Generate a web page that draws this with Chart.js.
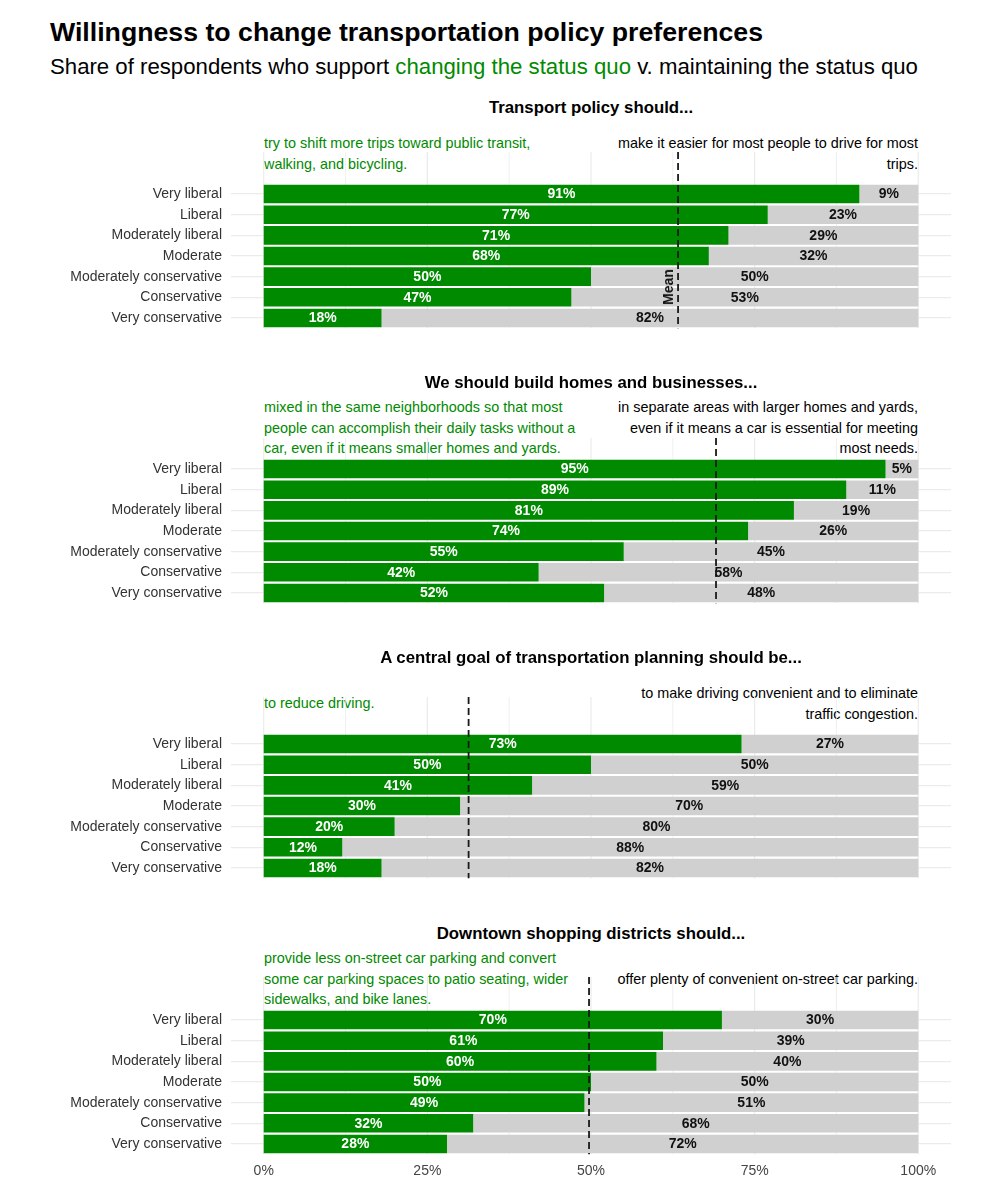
<!DOCTYPE html>
<html>
<head>
<meta charset="utf-8">
<script src="https://cdn.jsdelivr.net/npm/chart.js@4"></script>
<style>
  body { margin: 0; background: #fff; font-family: "Liberation Sans", Arial, sans-serif; }
  #page { position: relative; width: 1000px; height: 1200px; overflow: hidden; }
  canvas { position: absolute; left: 0; }
  .txt { position: absolute; white-space: nowrap; }
  .headline { left: 50px; top: 18.5px; font-size: 26.7px; line-height: 26.7px; font-weight: bold; color: #000; }
  .subtitle { left: 50px; top: 56px; font-size: 22.2px; line-height: 22.2px; color: #000; }
  .green { color: #008a00; }
  .ptitle { left: 591px; transform: translateX(-50%); font-size: 16.8px; line-height: 16.8px; font-weight: bold; color: #000; }
  .note { font-size: 14.4px; line-height: 20.5px; transform: translateY(-50%); }
  .note.left { left: 264px; color: #008a00; }
  .note.right { right: 82px; text-align: right; color: #000; }
  .meanlab { left: 668px; top: 287px; font-size: 14px; line-height: 14px; font-weight: bold; color: #111; transform: translate(-50%, -50%) rotate(-90deg); }
</style>
</head>
<body>
<div id="page">
  <div class="txt headline">Willingness to change transportation policy preferences</div>
  <div class="txt subtitle">Share of respondents who support <span class="green">changing the status quo</span> v. maintaining the status quo</div>
</div>
<script>
const categories = ['Very liberal', 'Liberal', 'Moderately liberal', 'Moderate', 'Moderately conservative', 'Conservative', 'Very conservative'];

const questions = [
  'Transport policy should...',
  'We should build homes and businesses...',
  'A central goal of transportation planning should be...',
  'Downtown shopping districts should...'
];

const changeNotes = [
  ['try to shift more trips toward public transit,', 'walking, and bicycling.'],
  ['mixed in the same neighborhoods so that most', 'people can accomplish their daily tasks without a', 'car, even if it means smaller homes and yards.'],
  ['to reduce driving.'],
  ['provide less on-street car parking and convert', 'some car parking spaces to patio seating, wider', 'sidewalks, and bike lanes.']
];
const keepNotes = [
  ['make it easier for most people to drive for most', 'trips.'],
  ['in separate areas with larger homes and yards,', 'even if it means a car is essential for meeting', 'most needs.'],
  ['to make driving convenient and to eliminate', 'traffic congestion.'],
  ['offer plenty of convenient on-street car parking.']
];

// share supporting change / maintaining the status quo, %
const change1 = [91, 77, 71, 68, 50, 47, 18];
const keep1   = [9, 23, 29, 32, 50, 53, 82];
const change2 = [95, 89, 81, 74, 55, 42, 52];
const keep2   = [5, 11, 19, 26, 45, 58, 48];
const change3 = [73, 50, 41, 30, 20, 12, 18];
const keep3   = [27, 50, 59, 70, 80, 88, 82];
const change4 = [70, 61, 60, 50, 49, 32, 28];
const keep4   = [30, 39, 40, 50, 51, 68, 72];

const means = [63.3, 69.1, 31.3, 49.7];

const xTickValues = [0, 25, 50, 75, 100];
const xTickLabels = ['0%', '25%', '50%', '75%', '100%'];
const gridValues = [0, 12.5, 25, 37.5, 50, 62.5, 75, 87.5, 100];

const GREEN = '#008a00';
const GRAY = '#d0d0d0';

Chart.defaults.font.family = '"Liberation Sans", Arial, sans-serif';

const panelExtras = {
  id: 'panelExtras',
  beforeDatasetsDraw(chart, args, opts) {
    const { ctx, chartArea, scales: { x } } = chart;
    ctx.save();
    ctx.strokeStyle = '#ebebeb';
    gridValues.forEach(v => {
      const px = x.getPixelForValue(v);
      ctx.lineWidth = v % 25 === 0 ? 1.2 : 0.7;
      ctx.beginPath();
      ctx.moveTo(px, opts.gridTop);
      ctx.lineTo(px, chartArea.bottom);
      ctx.stroke();
    });
    ctx.restore();
  },
  afterDatasetsDraw(chart, args, opts) {
    const { ctx, chartArea, scales: { x } } = chart;
    ctx.save();
    // mean line
    const mx = x.getPixelForValue(opts.mean);
    ctx.strokeStyle = '#1a1a1a';
    ctx.lineWidth = 1.8;
    ctx.setLineDash([7, 4]);
    ctx.beginPath();
    ctx.moveTo(mx, opts.gridTop);
    ctx.lineTo(mx, chartArea.bottom);
    ctx.stroke();
    ctx.setLineDash([]);
    // value labels in the middle of each segment
    ctx.font = 'bold 14px "Liberation Sans", Arial, sans-serif';
    ctx.textAlign = 'center';
    ctx.textBaseline = 'middle';
    chart.data.datasets.forEach((ds, i) => {
      ctx.fillStyle = i === 0 ? '#fff' : '#111';
      chart.getDatasetMeta(i).data.forEach((el, j) => {
        ctx.fillText(ds.data[j] + '%', (el.x + el.base) / 2, el.y + 0.5);
      });
    });
    ctx.restore();
  }
};

const page = document.getElementById('page');
const offsets = [0, 275, 550, 826];
const gridTops = [7, 18, 2, 6];
const series = [[change1, keep1], [change2, keep2], [change3, keep3], [change4, keep4]];

function addText(cls, html, top) {
  const d = document.createElement('div');
  d.className = 'txt ' + cls;
  d.innerHTML = html;
  d.style.top = top + 'px';
  page.appendChild(d);
  return d;
}

series.forEach(([change, keep], k) => {
  const P = offsets[k];
  const last = k === series.length - 1;

  addText('ptitle', questions[k], 99.5 + P);
  addText('note left', changeNotes[k].join('<br>'), 153 + P);
  addText('note right', keepNotes[k].join('<br>'), 153 + P);

  const canvas = document.createElement('canvas');
  const h = 229;
  canvas.width = 1000;
  canvas.height = h;
  canvas.style.top = (145 + P) + 'px';
  canvas.style.width = '1000px';
  canvas.style.height = h + 'px';
  page.appendChild(canvas);

  new Chart(canvas, {
    type: 'bar',
    data: {
      labels: categories,
      datasets: [
        { label: 'Change', data: change, backgroundColor: GREEN, barPercentage: 1, categoryPercentage: 0.9 },
        { label: 'Maintain', data: keep, backgroundColor: GRAY, barPercentage: 1, categoryPercentage: 0.9 }
      ]
    },
    options: {
      indexAxis: 'y',
      responsive: false,
      animation: false,
      layout: { padding: { top: 38.7, right: 49, bottom: 15.7, left: 0 } },
      plugins: {
        legend: { display: false },
        tooltip: { enabled: false },
        panelExtras: { mean: means[k], gridTop: gridTops[k] }
      },
      scales: {
        x: {
          stacked: true,
          min: -5,
          max: 105,
          afterBuildTicks: s => { s.ticks = xTickValues.map(v => ({ value: v })); },
          afterFit: s => { s.height = 30; },
          grid: { display: false, drawTicks: false },
          border: { display: false },
          ticks: {
            display: last,
            autoSkip: false,
            maxRotation: 0,
            padding: 8,
            color: '#444',
            font: { size: 14 },
            callback: (v, i) => xTickLabels[i]
          }
        },
        y: {
          stacked: true,
          afterFit: s => { s.width = 231; },
          grid: { offset: false, color: '#ebebeb', lineWidth: 1.2, drawTicks: false },
          border: { display: false },
          ticks: { padding: 9, color: '#333', font: { size: 14 } }
        }
      }
    },
    plugins: [panelExtras]
  });
});

addText('meanlab', 'Mean', 287);
</script>
</body>
</html>
